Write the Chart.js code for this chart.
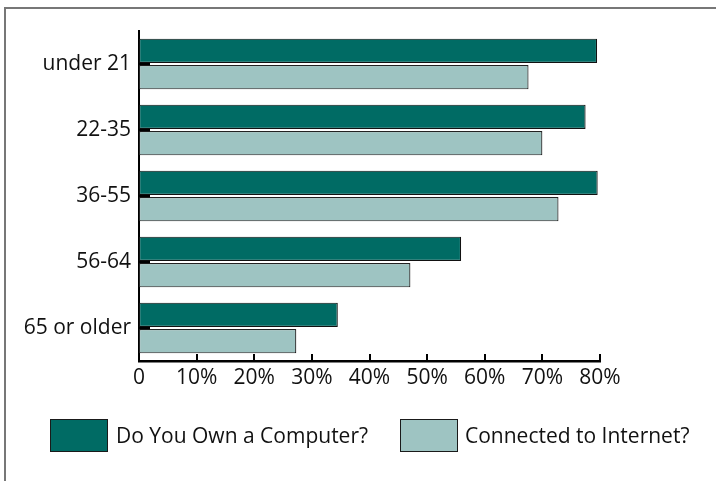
<!DOCTYPE html>
<html>
<head>
<meta charset="utf-8">
<script src="https://cdn.jsdelivr.net/npm/chart.js@4.4.1/dist/chart.umd.min.js"></script>
<style>
  html, body { margin: 0; padding: 0; background: #fff; }
  #wrap { position: relative; width: 716px; height: 481px; overflow: hidden; font-family: "Open Sans", sans-serif; }
  #frame { position: absolute; left: 4px; top: 7px; right: -10px; bottom: -10px; border-left: 2px solid #777; border-top: 2px solid #777; }
  #chart { position: absolute; left: 0; top: 0; }
  .swatch { position: absolute; box-sizing: border-box; width: 58px; height: 33px; border: 1.5px solid #1a1a1a; }
  .label { position: absolute; font-size: 21px; line-height: 26px; color: #111; white-space: nowrap; }
</style>
</head>
<body>
<div id="wrap">
  <div id="frame"></div>
  <canvas id="chart" width="716" height="481"></canvas>
  <div id="legend"></div>
</div>
<script>
// Age groups on the vertical axis
const ageGroups = ['under 21', '22-35', '36-55', '56-64', '65 or older'];
// Share of respondents (%) per age group
const ownComputer = [79.5, 77.5, 79.6, 55.9, 34.5];
const connectedInternet = [67.6, 70.0, 72.8, 47.1, 27.3];
// Horizontal axis tick labels, one per 10%
const percentTicks = ['0', '10%', '20%', '30%', '40%', '50%', '60%', '70%', '80%'];
const seriesNames = ['Do You Own a Computer?', 'Connected to Internet?'];
const seriesColors = ['#006B64', '#9EC4C2'];

const FONT = { family: '"Open Sans", sans-serif', size: 21 };

// Short tick marks pointing into the plot area
const inwardTicks = {
  id: 'inwardTicks',
  afterDatasetsDraw(chart) {
    const { ctx, chartArea, scales } = chart;
    const x = scales.x, y = scales.y;
    ctx.save();
    ctx.strokeStyle = '#000';
    ctx.lineWidth = 2;
    x.ticks.forEach((t, i) => {
      const px = Math.round(x.getPixelForTick(i));
      ctx.beginPath();
      ctx.moveTo(px, chartArea.bottom);
      ctx.lineTo(px, chartArea.bottom - 7);
      ctx.stroke();
    });
    ctx.lineWidth = 2.5;
    y.ticks.forEach((t, i) => {
      const py = y.getPixelForTick(i);
      ctx.beginPath();
      ctx.moveTo(chartArea.left, py);
      ctx.lineTo(chartArea.left + 11, py);
      ctx.stroke();
    });
    ctx.restore();
  }
};

const chart = new Chart(document.getElementById('chart'), {
  type: 'bar',
  data: {
    labels: ageGroups,
    datasets: [
      { label: seriesNames[0], data: ownComputer, backgroundColor: seriesColors[0], borderColor: '#111', borderWidth: 1.2, borderSkipped: false },
      { label: seriesNames[1], data: connectedInternet, backgroundColor: seriesColors[1], borderColor: '#222', borderWidth: 1.2, borderSkipped: false }
    ]
  },
  options: {
    indexAxis: 'y',
    responsive: false,
    animation: false,
    events: [],
    datasets: { bar: { categoryPercentage: 0.8, barPercentage: 0.92 } },
    layout: { padding: { top: 31, right: 116, left: 0, bottom: 0 } },
    plugins: { legend: { display: false }, tooltip: { enabled: false } },
    scales: {
      x: {
        min: 0, max: 80,
        grid: { display: false, drawTicks: false },
        border: { display: true, color: '#000', width: 2.5 },
        ticks: {
          stepSize: 10,
          padding: 4,
          color: '#111',
          font: FONT,
          maxRotation: 0,
          callback: (v, i) => percentTicks[i]
        },
        afterFit(scale) { scale.height = 120; }
      },
      y: {
        grid: { display: false, drawTicks: false },
        border: { display: true, color: '#000', width: 2 },
        ticks: { padding: 8, color: '#111', font: FONT },
        afterFit(scale) { scale.width = 139; }
      }
    }
  },
  plugins: [inwardTicks]
});

// Legend built from the dataset names and colours
const legendBox = document.getElementById('legend');
const legendPos = [{ box: 50, text: 116 }, { box: 400, text: 465 }];
chart.data.datasets.forEach((ds, i) => {
  const sw = document.createElement('div');
  sw.className = 'swatch';
  sw.style.left = legendPos[i].box + 'px';
  sw.style.top = '419px';
  sw.style.background = ds.backgroundColor;
  legendBox.appendChild(sw);
  const tx = document.createElement('div');
  tx.className = 'label';
  tx.style.left = legendPos[i].text + 'px';
  tx.style.top = '422px';
  tx.textContent = ds.label;
  legendBox.appendChild(tx);
});
</script>
</body>
</html>
